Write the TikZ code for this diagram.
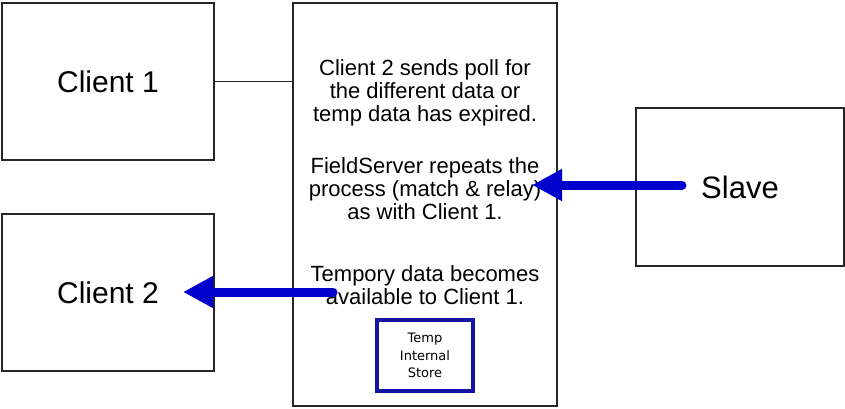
\documentclass[tikz,border=0pt]{standalone}
\usepackage{fontspec}
\setmainfont{Liberation Sans}
\newfontfamily\storefont{DejaVu Sans}
\usetikzlibrary{arrows.meta}

\definecolor{flowblue}{RGB}{0,0,205}
\definecolor{storeblue}{RGB}{20,20,165}

\tikzset{
  unit/.style={draw=black!85, line width=1.4pt, fill=white, inner sep=0pt},
  flow/.style={draw=flowblue, line width=9pt, line cap=round,
    -{Triangle[length=30pt,width=30pt]}},
  infotext/.style={align=center, font=\fontsize{22}{23}\selectfont},
}

\begin{document}
\begin{tikzpicture}[x=1pt,y=-1pt]
	\useasboundingbox (0,0) rectangle (845,409);
	% the four units
	\node[unit, minimum width=212pt, minimum height=157pt, font=\fontsize{30}{30}\selectfont] (client1) at (108,81.5) {Client 1};
	\node[unit, minimum width=212pt, minimum height=157pt, font=\fontsize{30}{30}\selectfont] (client2) at (108,292.5) {Client 2};
	\node[unit, minimum width=264pt, minimum height=403pt] (server) at (425,204.5) {};
	\node[unit, minimum width=208pt, minimum height=158pt, font=\fontsize{31}{31}\selectfont] (slave) at (740,187) {Slave};
	\draw[black!85, line width=1.4pt] (client1.east) -- (server.west |- client1.east);
	% text in the server
	\node[infotext] (info1) at (425,92.5) {Client 2 sends poll for\\the different data or\\temp data has expired.};
	\node[infotext] (info2) at (425,188.5) {FieldServer repeats the\\process (match \& relay)\\as with Client 1.};
	\node[infotext] (info3) at (425,285) {Tempory data becomes\\available to Client 1.};
	\node[draw=storeblue, line width=4pt, minimum width=96pt, minimum height=71pt, align=center,
	  font=\storefont\fontsize{13}{17.5}\selectfont] (store) at (425,355.5) {Temp\\Internal\\Store};
	% data flow
	\coordinate (slaveout) at (682,185);
	\coordinate (serverin) at (532,185);
	\coordinate (serverout) at (333,292);
	\coordinate (client2in) at (183,292);
	\draw[flow] (slaveout) -- (serverin);
	\draw[flow] (serverout) -- (client2in);
\end{tikzpicture}
\end{document}
